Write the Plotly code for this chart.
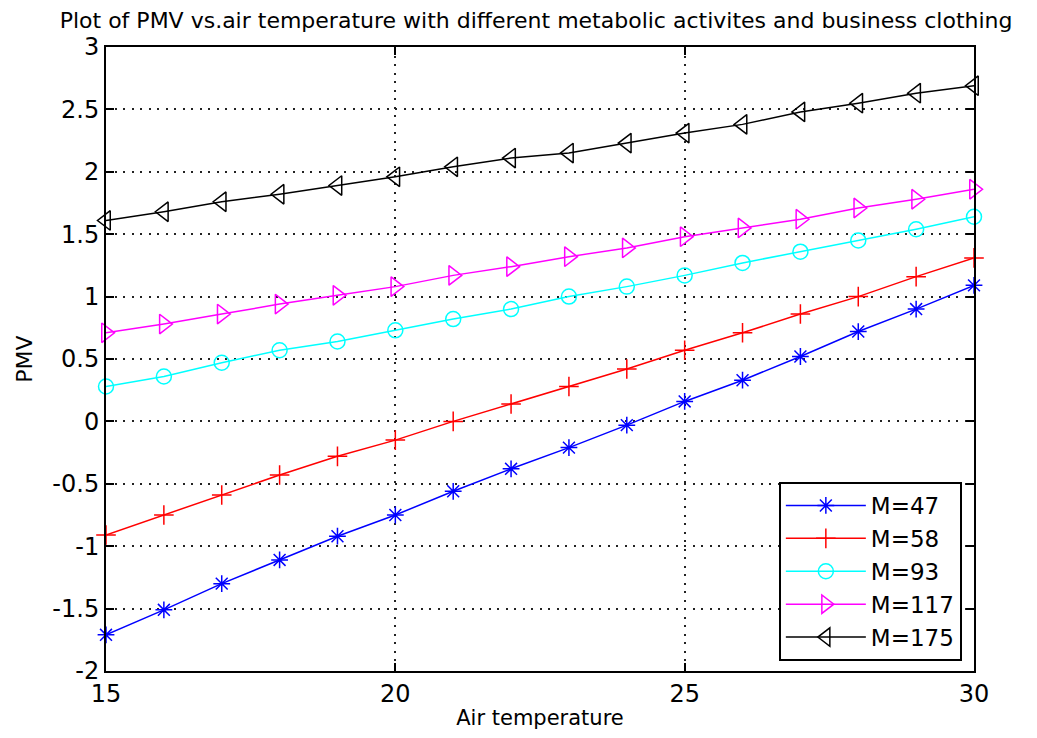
import plotly.graph_objects as go

air_temp = [15, 16, 17, 18, 19, 20, 21, 22, 23, 24, 25, 26, 27, 28, 29, 30]

pmv_m47 = [-1.71, -1.51, -1.30, -1.11, -0.92, -0.75, -0.56, -0.38, -0.21, -0.03, 0.16, 0.33, 0.52, 0.72, 0.90, 1.09]
pmv_m58 = [-0.91, -0.75, -0.59, -0.43, -0.28, -0.15, 0.00, 0.14, 0.28, 0.42, 0.57, 0.71, 0.86, 1.00, 1.16, 1.31]
pmv_m93 = [0.28, 0.36, 0.47, 0.57, 0.64, 0.73, 0.82, 0.90, 1.00, 1.08, 1.17, 1.27, 1.36, 1.45, 1.54, 1.64]
pmv_m117 = [0.71, 0.78, 0.86, 0.94, 1.01, 1.08, 1.17, 1.24, 1.32, 1.39, 1.48, 1.55, 1.62, 1.71, 1.78, 1.86]
pmv_m175 = [1.61, 1.68, 1.76, 1.82, 1.89, 1.96, 2.04, 2.11, 2.15, 2.23, 2.31, 2.38, 2.48, 2.55, 2.63, 2.69]

series_names = ["M=47", "M=58", "M=93", "M=117", "M=175"]
series_values = [pmv_m47, pmv_m58, pmv_m93, pmv_m117, pmv_m175]
series_colors = ["#0000ff", "#ff0000", "#00ffff", "#ff00ff", "#000000"]
series_symbols = ["asterisk-open", "cross-thin-open", "circle-open", "triangle-right-open", "triangle-left-open"]
series_sizes = [14, 14, 15, 17, 17]

x_ticks = [15, 20, 25, 30]
y_ticks = [-2, -1.5, -1, -0.5, 0, 0.5, 1, 1.5, 2, 2.5, 3]
y_tick_labels = ["-2", "-1.5", "-1", "-0.5", "0", "0.5", "1", "1.5", "2", "2.5", "3"]

fig = go.Figure()
for name, vals, col, sym, sz in zip(series_names, series_values, series_colors, series_symbols, series_sizes):
    fig.add_trace(go.Scatter(
        x=air_temp, y=vals, name=name, mode="lines+markers",
        line=dict(color=col, width=1.5),
        marker=dict(symbol=sym, size=sz, color=col, line=dict(color=col, width=1.5)),
        cliponaxis=False,
    ))

font_family = "DejaVu Sans, Verdana, sans-serif"
grid_dash = "2px,6.5px"

fig.update_layout(
    width=1037, height=738,
    margin=dict(l=106, r=63, t=47, b=65),
    paper_bgcolor="white", plot_bgcolor="white",
    font=dict(family=font_family, size=21, color="black"),
    title=dict(text="Plot of PMV vs.air temperature with different metabolic activites and business clothing",
               x=0.517, xanchor="center", y=0.972, yanchor="middle",
               font=dict(size=22, family=font_family, color="black")),
    xaxis=dict(
        title=dict(text="Air temperature", font=dict(size=21), standoff=4),
        range=[15, 30], tickvals=x_ticks, ticks="inside", ticklen=8, tickwidth=1.5,
        tickcolor="black", showline=True, linecolor="black", linewidth=2, mirror="ticks",
        showgrid=True, gridcolor="#222222", gridwidth=1.5, griddash=grid_dash,
        zeroline=False, tickfont=dict(size=24),
    ),
    yaxis=dict(
        title=dict(text="PMV", font=dict(size=22), standoff=14),
        range=[-2, 3], tickvals=y_ticks, ticktext=y_tick_labels, ticks="inside", ticklen=8, tickwidth=1.5,
        tickcolor="black", showline=True, linecolor="black", linewidth=2, mirror="ticks",
        showgrid=True, gridcolor="#222222", gridwidth=1.5, griddash=grid_dash,
        zeroline=False, tickfont=dict(size=24),
    ),
    legend=dict(
        x=0.986, y=0.016, xanchor="right", yanchor="bottom",
        bgcolor="white", bordercolor="black", borderwidth=2,
        font=dict(size=23), itemwidth=80,
    ),
    showlegend=True,
)

fig.write_html("out.html")
